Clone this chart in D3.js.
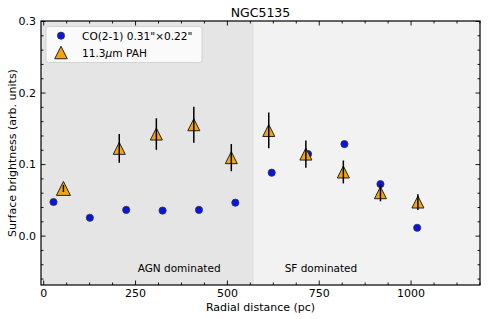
<html>
<head>
<script src="https://d3js.org/d3.v7.min.js"></script>
<style>
body { margin: 0; background: #fff; }
text { font-family: "DejaVu Sans", sans-serif; fill: #000; }
</style>
</head>
<body>
<div id="chart"></div>
<script>
// CO(2-1) profile
var coX = [28, 127, 226, 325, 424, 523, 622, 721, 820, 918, 1018];
var coY = [0.047, 0.025, 0.036, 0.035, 0.036, 0.046, 0.088, 0.114, 0.128, 0.072, 0.011];

// 11.3um PAH profile with errors
var pahX = [55, 207, 308, 410, 512, 614, 715, 817, 918, 1020];
var pahY = [0.066, 0.122, 0.142, 0.155, 0.109, 0.147, 0.114, 0.089, 0.060, 0.047];
var pahErr = [0.005, 0.020, 0.022, 0.025, 0.019, 0.025, 0.019, 0.016, 0.012, 0.011];
var pahSize = [14, 12, 12, 12, 12, 12, 12, 12, 12, 12];

var xTicks = [0, 250, 500, 750, 1000];
var yTicks = [0.0, 0.1, 0.2, 0.3];
var boundary = 571;

const W = 490, H = 319;
const m = {left: 41, right: 10, top: 21, bottom: 34};

var svg = d3.select("#chart").append("svg")
            .attr("width", W)
            .attr("height", H);

var x = d3.scaleLinear().domain([-6, 1189]).range([m.left, W - m.right]);
var y = d3.scaleLinear().domain([-0.069, 0.3]).range([H - m.bottom, m.top]);

// shaded regions
svg.append("rect")
   .attr("x", x(-6)).attr("y", y(0.3))
   .attr("width", x(boundary) - x(-6)).attr("height", y(-0.069) - y(0.3))
   .attr("fill", "#e5e5e5");
svg.append("rect")
   .attr("x", x(boundary)).attr("y", y(0.3))
   .attr("width", x(1189) - x(boundary)).attr("height", y(-0.069) - y(0.3))
   .attr("fill", "#f2f2f2");
svg.append("line")
   .attr("x1", x(boundary)).attr("x2", x(boundary))
   .attr("y1", y(0.3)).attr("y2", y(-0.069))
   .attr("stroke", "#e0e0e0").attr("stroke-width", 1.5);

svg.append("text").attr("x", x(370)).attr("y", 272)
   .attr("text-anchor", "middle").attr("font-size", "10.5px").text("AGN dominated");
svg.append("text").attr("x", x(756)).attr("y", 272)
   .attr("text-anchor", "middle").attr("font-size", "10.5px").text("SF dominated");

// axes, ticks inward on all sides
var minorX = d3.range(0, 1189, 62.5).filter(function(v) { return v % 250 != 0; });
var minorY = d3.range(-0.06, 0.301, 0.02).filter(function(v) { return Math.abs(v * 10 - Math.round(v * 10)) > 0.01; });

var gx = svg.append("g").attr("transform", "translate(0," + y(-0.069) + ")");
gx.call(d3.axisBottom(x).tickValues(xTicks).tickSize(-4.5).tickPadding(4).tickFormat(d3.format("d")));
svg.append("g").attr("transform", "translate(0," + y(-0.069) + ")")
   .call(d3.axisBottom(x).tickValues(minorX).tickSize(-2.5).tickFormat(""));
svg.append("g").attr("transform", "translate(0," + y(0.3) + ")")
   .call(d3.axisTop(x).tickValues(xTicks).tickSize(-4.5).tickFormat(""));
svg.append("g").attr("transform", "translate(0," + y(0.3) + ")")
   .call(d3.axisTop(x).tickValues(minorX).tickSize(-2.5).tickFormat(""));

var gy = svg.append("g").attr("transform", "translate(" + x(-6) + ",0)");
gy.call(d3.axisLeft(y).tickValues(yTicks).tickSize(-4.5).tickPadding(5).tickFormat(d3.format(".1f")));
svg.append("g").attr("transform", "translate(" + x(-6) + ",0)")
   .call(d3.axisLeft(y).tickValues(minorY).tickSize(-2.5).tickFormat(""));
svg.append("g").attr("transform", "translate(" + x(1189) + ",0)")
   .call(d3.axisRight(y).tickValues(yTicks).tickSize(-4.5).tickFormat(""));
svg.append("g").attr("transform", "translate(" + x(1189) + ",0)")
   .call(d3.axisRight(y).tickValues(minorY).tickSize(-2.5).tickFormat(""));

svg.selectAll(".domain").remove();
svg.selectAll(".tick line").attr("stroke", "#000").attr("stroke-width", 0.9);
svg.selectAll(".tick text").attr("font-size", "11px").attr("font-family", "DejaVu Sans, sans-serif").attr("fill", "#000");

// frame
svg.append("rect")
   .attr("x", x(-6)).attr("y", y(0.3))
   .attr("width", x(1189) - x(-6)).attr("height", y(-0.069) - y(0.3))
   .attr("fill", "none").attr("stroke", "#000").attr("stroke-width", 1.2);

// CO circles
svg.selectAll(".co").data(coX).enter().append("circle")
   .attr("cx", function(d) { return x(d); })
   .attr("cy", function(d, i) { return y(coY[i]); })
   .attr("r", 3.6)
   .attr("fill", "#0a14e6")
   .attr("stroke", "#333").attr("stroke-width", 0.8);

function tri(s) {
  var h = s / 2;
  return "M0," + (-h) + "L" + h + "," + h + "L" + (-h) + "," + h + "Z";
}

// PAH triangles
svg.selectAll(".pah").data(pahX).enter().append("path")
   .attr("transform", function(d, i) { return "translate(" + x(d) + "," + y(pahY[i]) + ")"; })
   .attr("d", function(d, i) { return tri(pahSize[i]); })
   .attr("fill", "#f5a30f")
   .attr("stroke", "#222").attr("stroke-width", 1);

// error bars
svg.selectAll(".err").data(pahX).enter().append("line")
   .attr("x1", function(d) { return x(d); })
   .attr("x2", function(d) { return x(d); })
   .attr("y1", function(d, i) { return y(pahY[i] + pahErr[i]); })
   .attr("y2", function(d, i) { return y(pahY[i] - pahErr[i]); })
   .attr("stroke", "#000").attr("stroke-width", 1.5);

// legend
var lg = svg.append("g");
lg.append("rect").attr("x", 46).attr("y", 26.5).attr("width", 156).attr("height", 36)
  .attr("rx", 2.5).attr("fill", "#fff").attr("fill-opacity", 0.8)
  .attr("stroke", "#ccc").attr("stroke-width", 0.8);
lg.append("circle").attr("cx", 61).attr("cy", 35.7).attr("r", 3.6)
  .attr("fill", "#0a14e6").attr("stroke", "#333").attr("stroke-width", 0.8);
lg.append("path").attr("transform", "translate(61,52.5)").attr("d", tri(12.5))
  .attr("fill", "#f5a30f").attr("stroke", "#222").attr("stroke-width", 1);
lg.append("text").attr("x", 82).attr("y", 39.5).attr("font-size", "10.6px")
  .text("CO(2-1) 0.31\"\u00d70.22\"");
var t2 = lg.append("text").attr("x", 82).attr("y", 56.5).attr("font-size", "10.6px");
t2.append("tspan").text("11.3");
t2.append("tspan").attr("font-style", "italic").text("\u03bc");
t2.append("tspan").text("m PAH");

// title and labels
svg.append("text").attr("x", (x(-6) + x(1189)) / 2).attr("y", 16.5)
   .attr("text-anchor", "middle").attr("font-size", "12.5px").text("NGC5135");
svg.append("text").attr("x", (x(-6) + x(1189)) / 2).attr("y", 311)
   .attr("text-anchor", "middle").attr("font-size", "11px").text("Radial distance (pc)");
svg.append("text").attr("transform", "translate(15.5," + ((y(0.3) + y(-0.069)) / 2) + ") rotate(-90)")
   .attr("text-anchor", "middle").attr("font-size", "11px").text("Surface brightness (arb. units)");
</script>
</body>
</html>
